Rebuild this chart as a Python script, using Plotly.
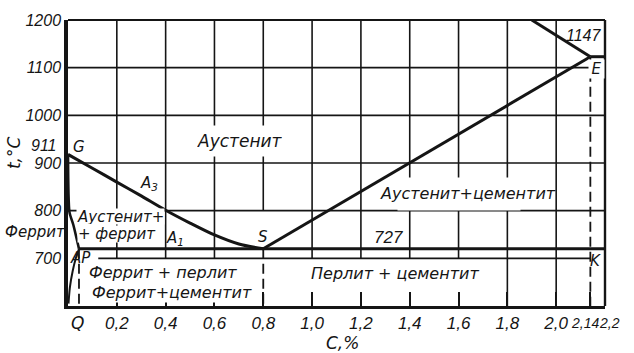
import plotly.graph_objects as go

# ---------------- data ----------------
c_range = [0.0, 2.2]
t_range = [600, 1200]

x_tick_vals = [0.2, 0.4, 0.6, 0.8, 1.0, 1.2, 1.4, 1.6, 1.8, 2.0, 2.14, 2.2]
x_tick_text = ["0,2", "0,4", "0,6", "0,8", "1,0", "1,2", "1,4", "1,6", "1,8", "2,0", "2,14", "2,2"]
y_tick_vals = [700, 800, 900, 1000, 1100, 1200]
y_tick_text = ["700", "800", "900", "1000", "1100", "1200"]

grid_c = [0.2, 0.4, 0.6, 0.8, 1.0, 1.2, 1.4, 1.6, 1.8, 2.0]
grid_t = [800, 900, 1000, 1100]

# phase boundaries (as drawn)
gs_c = [0, 0.1, 0.2, 0.3, 0.4, 0.5, 0.6, 0.7, 0.8]
gs_t = [918, 889, 860, 831, 801, 774, 749, 730, 720]
gp_c = [0, 0.006, 0.022, 0.045]
gp_t = [918, 797, 770, 720]
pq_c = [0.045, 0.032, 0.019, 0.008, 0.002]
pq_t = [720, 700, 673, 640, 605]
se_c = [0.8, 2.14]
se_t = [720, 1123]
ae_c = [1.9, 2.14]
ae_t = [1200, 1123]
ecf_c = [2.14, 2.2]
ecf_t = [1123, 1123]
psk_c = [0.045, 2.2]
psk_t = [720, 720]
dash_c = [0.045, 0.8, 2.14]
dash_top = [720, 720, 1123]

INK = "#151515"
FONT_NUM = "Liberation Sans, Arial, sans-serif"
FONT_TXT = "DejaVu Sans, Verdana, sans-serif"

fig = go.Figure()

# ---- grid lines (drawn as segments so they can stop like in the drawing) ----
vx, vy = [], []
for c in grid_c:
    lo = 700
    if c == 0.8:
        lo = 800
    if c >= 1.8:
        lo = t_range[0]
    vx += [c, c, None]
    vy += [lo, t_range[1], None]
hx, hy = [], []
for t in grid_t:
    hx += [c_range[0], c_range[1], None]
    hy += [t, t, None]
hx += [0.124, 2.14, None]
hy += [700, 700, None]
fig.add_trace(go.Scatter(x=vx + hx, y=vy + hy, mode="lines",
                         line=dict(color=INK, width=1.6), hoverinfo="skip", showlegend=False))

# ---- dashed verticals ----
for c, top in zip(dash_c, dash_top):
    fig.add_trace(go.Scatter(x=[c, c], y=[top, t_range[0]], mode="lines",
                             line=dict(color=INK, width=1.8, dash="10px,5px"),
                             hoverinfo="skip", showlegend=False))

# ---- phase lines ----
fig.add_trace(go.Scatter(x=gs_c, y=gs_t, mode="lines", line=dict(color=INK, width=3, shape="spline", smoothing=0.8),
                         hoverinfo="skip", showlegend=False))
fig.add_trace(go.Scatter(x=gp_c, y=gp_t, mode="lines", line=dict(color=INK, width=2.6, shape="spline", smoothing=0.6),
                         hoverinfo="skip", showlegend=False))
fig.add_trace(go.Scatter(x=pq_c, y=pq_t, mode="lines", line=dict(color=INK, width=2, shape="spline", smoothing=0.8),
                         hoverinfo="skip", showlegend=False))
for xs, ys in [(se_c, se_t), (ae_c, ae_t), (ecf_c, ecf_t), (psk_c, psk_t)]:
    fig.add_trace(go.Scatter(x=xs, y=ys, mode="lines", line=dict(color=INK, width=3),
                             hoverinfo="skip", showlegend=False))


# ---- labels ----
def lab(text, x, y, size=16, family=FONT_TXT, bg=None, w=None, h=None, valign="middle", angle=0, ref="data"):
    if ref == "paper":
        # convert data-like coordinates to paper fractions (outside the axes)
        x = (x - c_range[0]) / (c_range[1] - c_range[0])
        y = (y - t_range[0]) / (t_range[1] - t_range[0])
        xr, yr = "paper", "paper"
    else:
        xr, yr = "x", "y"
    d = dict(text=text, x=x, y=y, xref=xr, yref=yr, showarrow=False,
             font=dict(family=family, size=size, color=INK, style="italic"),
             xanchor="center", yanchor="middle", textangle=angle, borderpad=0, valign=valign)
    if bg:
        d["bgcolor"] = bg
    if w:
        d["width"] = w
    if h:
        d["height"] = h
    return d


# the two crowded tick labels at the right end are placed by hand
crowded = {2.14: -0.02, 2.2: 0.017}
tick_text_axis = ["" if v in crowded else t for v, t in zip(x_tick_vals, x_tick_text)]

annots = [
    lab("911", -0.10, 936, 16, FONT_NUM, ref="paper"),
    lab("G", 0.043, 934, 15),
    lab("A<sub>3</sub>", 0.33, 856, 15),
    lab("Аустенит+", 0.215, 787, 15, bg="white", h=15),
    lab("+ феррит", 0.2, 751, 15, bg="white", h=16),
    lab("A<sub>1</sub>", 0.44, 742, 15),
    lab("S", 0.8, 744, 15),
    lab("727", 1.311, 744, 17, FONT_NUM),
    lab("Аустенит", 0.706, 947, 17, bg="white", h=30),
    # white patch that interrupts the grid behind the label
    lab(" ", 1.6, 834, 10, bg="white", w=122, h=32),
    lab("Аустенит+цементит", 1.640, 835, 16),
    lab("1147", 2.113, 1168, 16, FONT_NUM),
    lab("E", 2.166, 1098, 15, bg="white", w=15),
    lab("K", 2.162, 695, 15),
    lab("Перлит + цементит", 1.34, 668, 16),
    lab("Феррит + перлит", 0.39, 670, 16),
    lab("Феррит+цементит", 0.428, 628, 16, bg="white"),
    lab("АР", 0.05, 701, 15),
    lab("Феррит", -0.133, 755, 15, ref="paper"),
    lab("Q", 0.039, 564, 17, ref="paper"),
    lab("C,%", 1.123, 523, 17, ref="paper"),
    lab("t,°C", -0.223, 922, 17, angle=-90, ref="paper"),
]
for v, t in zip(x_tick_vals, x_tick_text):
    if v in crowded:
        annots.append(lab(t, v + crowded[v], 564, 14, FONT_NUM, ref="paper"))

fig.update_layout(
    width=634, height=353,
    margin=dict(l=68, r=29, t=16, b=47),
    paper_bgcolor="white", plot_bgcolor="white",
    showlegend=False,
    annotations=annots,
    shapes=[
        dict(type="line", xref="paper", yref="paper", x0=0, x1=1, y0=1, y1=1, line=dict(color=INK, width=2)),
        dict(type="line", xref="paper", yref="paper", x0=1, x1=1, y0=0, y1=1, line=dict(color=INK, width=2.4)),
    ],
)
fig.update_xaxes(range=c_range, showgrid=False, zeroline=False, showline=True, linewidth=3, linecolor=INK,
                 tickmode="array", tickvals=x_tick_vals, ticktext=tick_text_axis, tickangle=0,
                 ticks="inside", ticklen=14, tickwidth=1.6, tickcolor=INK,
                 tickfont=dict(family=FONT_NUM, size=17, color=INK, style="italic"))
fig.update_yaxes(range=t_range, showgrid=False, zeroline=False, showline=True, linewidth=3.5, linecolor=INK,
                 tickmode="array", tickvals=y_tick_vals, ticktext=y_tick_text, ticks="",
                 tickfont=dict(family=FONT_NUM, size=16, color=INK, style="italic"))

fig.write_html("out.html")
